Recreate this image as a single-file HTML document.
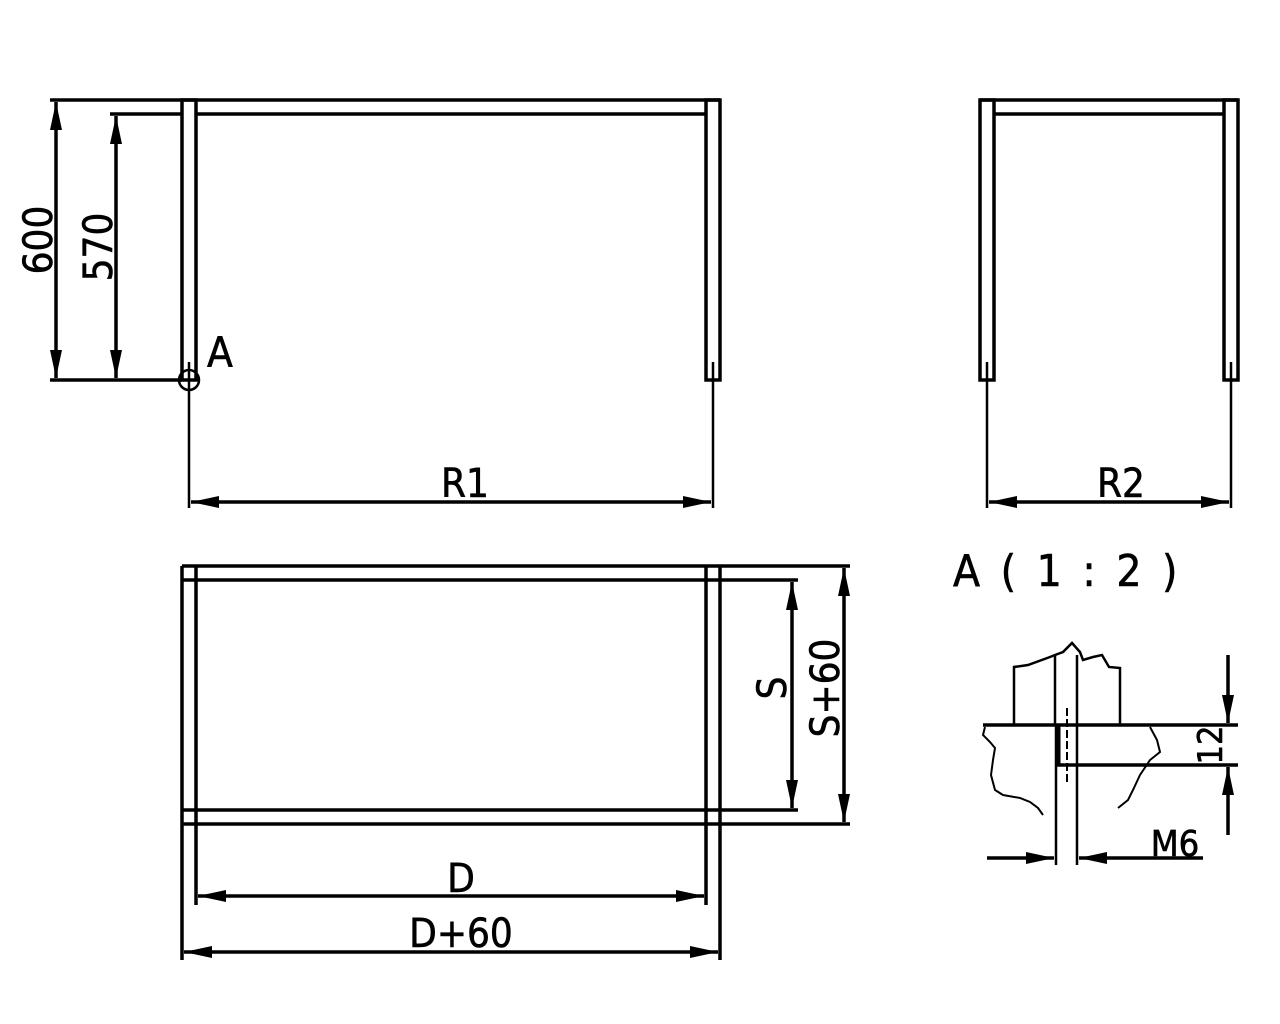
<!DOCTYPE html>
<html><head><meta charset="utf-8"><style>
html,body{margin:0;padding:0;background:#fff;}
svg{display:block;}
text{font-family:"DejaVu Sans Condensed","Liberation Sans Narrow","Liberation Sans",sans-serif;fill:#000;stroke:#000;stroke-width:0.6;}
</style></head><body>
<svg width="1280" height="1024" viewBox="0 0 1280 1024" xmlns="http://www.w3.org/2000/svg">
<defs>
<marker id="a" markerUnits="userSpaceOnUse" markerWidth="30" markerHeight="16" refX="28" refY="8" orient="auto-start-reverse">
<path d="M0,2 L28,8 L0,14 Z" fill="#000"/>
</marker>
</defs>
<g stroke="#000" stroke-width="3.5" fill="none">
<line x1="50" y1="100" x2="720" y2="100"/>
<line x1="110" y1="114" x2="182" y2="114"/>
<line x1="196" y1="114" x2="706" y2="114"/>
<rect x="182" y="100" width="14" height="280"/>
<rect x="706" y="100" width="14" height="280"/>
<line x1="50" y1="380" x2="182" y2="380"/>
<line x1="189" y1="362" x2="189" y2="508" stroke-width="2.5"/>
<line x1="713" y1="362" x2="713" y2="508" stroke-width="2.5"/>
<circle cx="189" cy="380" r="10" stroke-width="2.5"/>
<line x1="179" y1="380" x2="199" y2="380" stroke-width="2.5"/>
<line x1="56" y1="102" x2="56" y2="378" marker-start="url(#a)" marker-end="url(#a)"/>
<line x1="116" y1="116" x2="116" y2="378" marker-start="url(#a)" marker-end="url(#a)"/>
<line x1="191" y1="502" x2="711" y2="502" marker-start="url(#a)" marker-end="url(#a)"/>
<line x1="980" y1="100" x2="1238" y2="100"/>
<line x1="994" y1="114" x2="1224" y2="114"/>
<rect x="980" y="100" width="14" height="280"/>
<rect x="1224" y="100" width="14" height="280"/>
<line x1="987" y1="362" x2="987" y2="508" stroke-width="2.5"/>
<line x1="1231" y1="362" x2="1231" y2="508" stroke-width="2.5"/>
<line x1="989" y1="502" x2="1229" y2="502" marker-start="url(#a)" marker-end="url(#a)"/>
<line x1="182" y1="566" x2="850" y2="566"/>
<line x1="182" y1="580" x2="798" y2="580"/>
<line x1="182" y1="810" x2="798" y2="810"/>
<line x1="182" y1="824" x2="850" y2="824"/>
<line x1="182" y1="566" x2="182" y2="960"/>
<line x1="196" y1="566" x2="196" y2="905"/>
<line x1="706" y1="566" x2="706" y2="905"/>
<line x1="720" y1="566" x2="720" y2="960"/>
<line x1="792" y1="582" x2="792" y2="808" marker-start="url(#a)" marker-end="url(#a)"/>
<line x1="844" y1="568" x2="844" y2="822" marker-start="url(#a)" marker-end="url(#a)"/>
<line x1="198" y1="896" x2="704" y2="896" marker-start="url(#a)" marker-end="url(#a)"/>
<line x1="184" y1="952" x2="718" y2="952" marker-start="url(#a)" marker-end="url(#a)"/>
<line x1="983" y1="725" x2="1238" y2="725"/>
<line x1="1057" y1="765" x2="1238" y2="765"/>
<line x1="1056" y1="725" x2="1056" y2="865" stroke-width="2.5"/>
<line x1="1077" y1="655" x2="1077" y2="865" stroke-width="2.5"/>
<line x1="1058" y1="725" x2="1058" y2="765" stroke-width="5"/>
<line x1="1067" y1="708" x2="1067" y2="783" stroke-width="2" stroke-dasharray="8,3"/>
<path d="M1014,725 L1014,667 L1028,665 L1050,657 L1055,655 L1063,652 L1072,643 L1080,652 L1083,660 L1093,657 L1102,655 L1109,667 L1120,668 L1120,725" stroke-width="2.5"/>
<line x1="1055" y1="655" x2="1055" y2="725" stroke-width="2.5"/>
<path d="M985,727 L983,735 L990,742 L995,748 L993,760 L991,775 L995,790 L1003,795 L1020,798 L1030,802 L1038,808 L1043,815" stroke-width="2"/>
<path d="M1150,727 L1157,740 L1160,752 L1150,760 L1140,775 L1133,790 L1128,800 L1118,808" stroke-width="2"/>
<line x1="1228" y1="655" x2="1228" y2="723" marker-end="url(#a)"/>
<line x1="1228" y1="835" x2="1228" y2="767" marker-end="url(#a)"/>
<line x1="987" y1="858" x2="1054" y2="858" marker-end="url(#a)"/>
<line x1="1203" y1="858" x2="1079" y2="858" marker-end="url(#a)"/>
</g>
<g font-size="40">
<text x="0" y="0" transform="translate(52,240) rotate(-90)" text-anchor="middle">600</text>
<text x="0" y="0" transform="translate(112,247) rotate(-90)" text-anchor="middle">570</text>
<text x="207" y="367" font-size="42">A</text>
<text x="465" y="497" text-anchor="middle">R1</text>
<text x="1121" y="497" text-anchor="middle">R2</text>
<text x="0" y="0" transform="translate(786,688) rotate(-90)" text-anchor="middle">S</text>
<text x="0" y="0" transform="translate(839,688) rotate(-90)" text-anchor="middle">S+60</text>
<text x="461" y="892" text-anchor="middle">D</text>
<text x="461" y="947" text-anchor="middle">D+60</text>
<text x="1222" y="745" transform="rotate(-90 1222 745)" text-anchor="middle" font-size="34">12</text>
<text x="1175" y="856" text-anchor="middle" font-size="36">M6</text>
<text x="953" y="586" font-size="44" font-family="Liberation Sans, sans-serif" letter-spacing="4" xml:space="preserve">A ( 1 : 2 )</text>
</g>
</svg>
</body></html>
